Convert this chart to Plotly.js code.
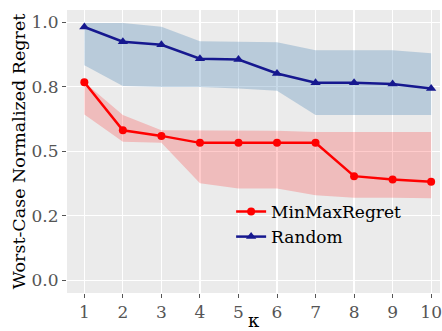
<!DOCTYPE html>
<html>
<head>
<meta charset="utf-8">
<script src="https://cdn.plot.ly/plotly-3.0.1.min.js"></script>
<style>html,body{margin:0;padding:0;background:#fff;}#chart{width:442px;height:331px;}</style>
</head>
<body>
<div id="chart"></div>
<script>
const kappa = [1, 2, 3, 4, 5, 6, 7, 8, 9, 10];

const minmaxMean  = [0.767, 0.581, 0.559, 0.532, 0.532, 0.532, 0.532, 0.403, 0.390, 0.381];
const minmaxUpper = [0.767, 0.640, 0.581, 0.581, 0.581, 0.579, 0.574, 0.574, 0.574, 0.574];
const minmaxLower = [0.642, 0.536, 0.532, 0.375, 0.355, 0.355, 0.329, 0.319, 0.319, 0.317];

const randomMean  = [0.981, 0.924, 0.912, 0.858, 0.855, 0.801, 0.765, 0.765, 0.760, 0.743];
const randomUpper = [0.997, 0.997, 0.982, 0.926, 0.924, 0.922, 0.891, 0.891, 0.891, 0.879];
const randomLower = [0.833, 0.752, 0.749, 0.749, 0.743, 0.734, 0.640, 0.640, 0.640, 0.640];

const yTickVals = [0, 0.25, 0.5, 0.75, 1.0];
const yTickText = ['0.0', '0.2', '0.5', '0.8', '1.0'];

const FONT = 'DejaVu Serif, serif';

const traces = [
  {x: kappa, y: randomLower, mode: 'lines', line: {width: 0}, showlegend: false, hoverinfo: 'skip'},
  {x: kappa, y: randomUpper, mode: 'lines', line: {width: 0}, fill: 'tonexty',
   fillcolor: 'rgba(70,130,180,0.3)', showlegend: false, hoverinfo: 'skip'},
  {x: kappa, y: minmaxLower, mode: 'lines', line: {width: 0}, showlegend: false, hoverinfo: 'skip'},
  {x: kappa, y: minmaxUpper, mode: 'lines', line: {width: 0}, fill: 'tonexty',
   fillcolor: 'rgba(255,0,0,0.2)', showlegend: false, hoverinfo: 'skip'},
  {x: kappa, y: minmaxMean, name: 'MinMaxRegret', mode: 'lines+markers',
   line: {color: '#ff0000', width: 2.5}, marker: {symbol: 'circle', size: 8, color: '#ff0000'}},
  {x: kappa, y: randomMean, name: 'Random', mode: 'lines+markers',
   line: {color: '#16188f', width: 2.5}, marker: {symbol: 'triangle-up', size: 9, color: '#16188f'}}
];

const layout = {
  width: 442, height: 331,
  margin: {l: 67, r: 2, t: 10, b: 38, pad: 0},
  paper_bgcolor: '#ffffff',
  plot_bgcolor: '#ebebeb',
  font: {family: FONT, size: 17, color: '#000'},
  xaxis: {
    range: [0.55, 10.23],
    tickvals: kappa,
    ticktext: kappa.map(String),
    showgrid: true, gridcolor: '#ffffff', gridwidth: 1.2,
    zeroline: false, showline: false,
    ticks: 'outside', ticklen: 4, tickcolor: '#555', tickwidth: 1,
    tickfont: {family: FONT, size: 17, color: '#555'},
    title: {text: 'κ', font: {family: FONT, size: 18, color: '#000'}, standoff: 13}
  },
  yaxis: {
    range: [-0.05, 1.047],
    tickvals: yTickVals,
    ticktext: yTickText,
    showgrid: true, gridcolor: '#ffffff', gridwidth: 1.2,
    zeroline: false, showline: false,
    ticks: 'outside', ticklen: 4, tickcolor: '#555', tickwidth: 1,
    tickfont: {family: FONT, size: 17, color: '#555'},
    title: {text: 'Worst-Case Normalized Regret', font: {family: FONT, size: 17.5, color: '#000'}, standoff: 1}
  },
  legend: {
    x: 0.44, y: 0.35, xanchor: 'left', yanchor: 'top',
    bgcolor: 'rgba(0,0,0,0)', borderwidth: 0,
    font: {family: FONT, size: 17, color: '#000'},
    itemwidth: 30, tracegroupgap: 0, traceorder: 'normal'
  },
  showlegend: true
};

Plotly.newPlot('chart', traces, layout, {staticPlot: true, displayModeBar: false});
</script>
</body>
</html>
